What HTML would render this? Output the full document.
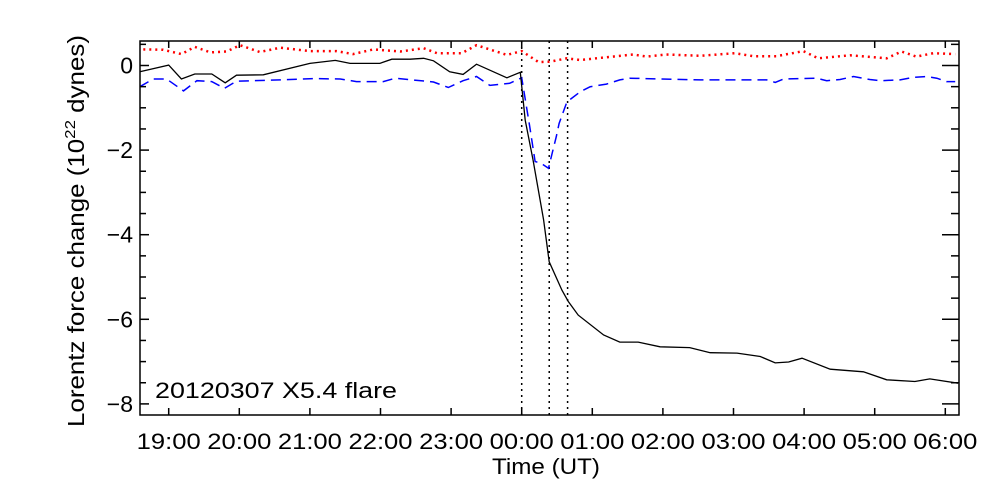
<!DOCTYPE html>
<html><head><meta charset="utf-8"><style>
html,body{margin:0;padding:0;background:#fff}
svg{display:block}
text{font-family:"Liberation Sans",sans-serif;fill:#000}
</style></head><body>
<svg id="chart" width="1000" height="500" viewBox="0 0 1000 500">
<rect width="1000" height="500" fill="#fff"/>
<g id="marks"></g>
<g id="axes"></g>
<text x="155" y="398" font-size="22" textLength="242" lengthAdjust="spacingAndGlyphs">20120307 X5.4 flare</text>
<text x="546" y="474" font-size="22" text-anchor="middle" textLength="108" lengthAdjust="spacingAndGlyphs">Time (UT)</text>
<text transform="translate(84,231) rotate(-90)" font-size="23" text-anchor="middle" textLength="392" lengthAdjust="spacingAndGlyphs">Lorentz force change (10<tspan dy="-9" font-size="15">22</tspan><tspan dy="9"> dynes)</tspan></text>
</svg>
<script>
// hours relative to 2012-03-07 00:00 UT
const xTickHours = [-5,-4,-3,-2,-1,0,1,2,3,4,5,6];
const xTickLabels = ["19:00","20:00","21:00","22:00","23:00","00:00","01:00","02:00","03:00","04:00","05:00","06:00"];
const yTickValues = [0,-2,-4,-6,-8];
const yTickLabels = ["0","\u22122","\u22124","\u22126","\u22128"];
const markerHours = [0,0.39,0.65];
const totalT = [-5.41,-5.0,-4.82,-4.63,-4.39,-4.2,-4.04,-3.66,-3.0,-2.64,-2.43,-2.01,-1.84,-1.58,-1.39,-1.25,-1.02,-0.83,-0.64,-0.21,-0.02,0.05,0.16,0.31,0.39,0.57,0.66,0.8,1.16,1.39,1.65,1.96,2.38,2.67,3.05,3.38,3.59,3.78,3.97,4.37,4.84,5.17,5.57,5.78,6.18];
const totalV = [-0.15,0.01,-0.32,-0.2,-0.2,-0.41,-0.23,-0.22,0.05,0.12,0.05,0.05,0.15,0.15,0.17,0.11,-0.15,-0.21,0.03,-0.29,-0.16,-1.29,-2.23,-3.65,-4.64,-5.31,-5.58,-5.9,-6.37,-6.54,-6.54,-6.65,-6.67,-6.79,-6.8,-6.88,-7.03,-7.01,-6.92,-7.18,-7.24,-7.43,-7.47,-7.41,-7.51];
const redT = [-5.36,-5.08,-4.82,-4.63,-4.41,-4.18,-3.99,-3.71,-3.42,-3.0,-2.62,-2.39,-2.1,-1.72,-1.39,-1.2,-0.85,-0.64,-0.21,0,0.24,0.4,0.64,0.83,1.11,1.58,1.77,2.05,2.53,3.02,3.28,3.61,3.99,4.2,4.65,5.17,5.38,5.59,5.83,6.14];
const redV = [0.38,0.37,0.27,0.44,0.31,0.33,0.48,0.32,0.42,0.34,0.34,0.27,0.38,0.33,0.41,0.29,0.29,0.48,0.25,0.34,0.08,0.09,0.17,0.13,0.18,0.26,0.21,0.26,0.23,0.29,0.22,0.22,0.34,0.17,0.24,0.17,0.33,0.21,0.29,0.27];
const blueT = [-5.41,-5.22,-5.03,-4.79,-4.6,-4.39,-4.21,-4.04,-3.42,-2.95,-2.57,-2.34,-1.96,-1.79,-1.25,-1.04,-0.83,-0.64,-0.45,-0.17,0,0.11,0.19,0.27,0.38,0.43,0.49,0.53,0.64,0.83,0.97,1.2,1.39,1.53,2.53,3.47,3.59,3.71,4.18,4.32,4.51,4.7,4.93,5.08,5.36,5.55,5.74,5.88,6.02,6.14];
const blueV = [-0.5,-0.32,-0.32,-0.6,-0.36,-0.38,-0.54,-0.37,-0.34,-0.31,-0.32,-0.38,-0.38,-0.3,-0.39,-0.52,-0.36,-0.26,-0.47,-0.42,-0.29,-1.41,-2.27,-2.31,-2.43,-2.08,-1.68,-1.37,-0.86,-0.62,-0.5,-0.44,-0.34,-0.3,-0.34,-0.34,-0.4,-0.32,-0.3,-0.36,-0.33,-0.26,-0.33,-0.36,-0.34,-0.28,-0.26,-0.3,-0.38,-0.38];

const L=140,R=959,T=41,B=415;
const x0=521.7,pxH=70.6,y0=65.5,pxU=42.3;
const xS=t=>x0+pxH*t;
const yS=v=>y0-pxU*v;
const NS="http://www.w3.org/2000/svg";
const marks=document.getElementById('marks');
const axes=document.getElementById('axes');
function mk(tag,attrs,parent){const e=document.createElementNS(NS,tag);for(const k in attrs)e.setAttribute(k,attrs[k]);parent.appendChild(e);return e;}

function series(ts,vs,color,dash,name,w){
  const d=ts.map((t,i)=>(i?'L':'M')+xS(t).toFixed(1)+','+yS(vs[i]).toFixed(1)).join('');
  const p=mk('path',{d:d,fill:'none',stroke:color,'stroke-width':w,'stroke-dasharray':dash},marks);
  
  
}
markerHours.forEach((h,i)=>{
  const l=mk('line',{x1:xS(h),x2:xS(h),y1:T,y2:B,stroke:'#000','stroke-width':1.5,'stroke-dasharray':'2,4'},marks);
  
  
});
series(redT,redV,'#f00','2,4','red-dotted-series',2.5);
series(blueT,blueV,'#00f','10,6','blue-dashed-series',1.5);
series(totalT,totalV,'#000','','total-force-line',1.3);

const frame=mk('rect',{x:L,y:T,width:R-L,height:B-T,fill:'none',stroke:'#000','stroke-width':1.5},axes);



xTickHours.forEach((h,i)=>{
  const x=xS(h);
  mk('line',{x1:x,x2:x,y1:B,y2:B-7,stroke:'#000','stroke-width':1.5},axes);
  mk('line',{x1:x,x2:x,y1:T,y2:T+7,stroke:'#000','stroke-width':1.5},axes);
  const tx=mk('text',{x:x,y:449,'font-size':22,'text-anchor':'middle',textLength:64,lengthAdjust:'spacingAndGlyphs'},axes);
  tx.textContent=xTickLabels[i];
  
  
});
for(let v=0.5;v>=-8.01;v-=0.5){
  const y=yS(v);if(y<T||y>B)continue;
  const major=Math.abs(v%2)<1e-6;
  mk('line',{x1:L,x2:L+(major?9:6),y1:y,y2:y,stroke:'#000','stroke-width':1.5},axes);
  mk('line',{x1:R,x2:R-(major?17:8),y1:y,y2:y,stroke:'#000','stroke-width':1.5},axes);
}
yTickValues.forEach((v,i)=>{
  const tx=mk('text',{x:133,y:yS(v)+8,'font-size':23,'text-anchor':'end'},axes);
  tx.textContent=yTickLabels[i];
  
  
});
</script>
</body></html>
